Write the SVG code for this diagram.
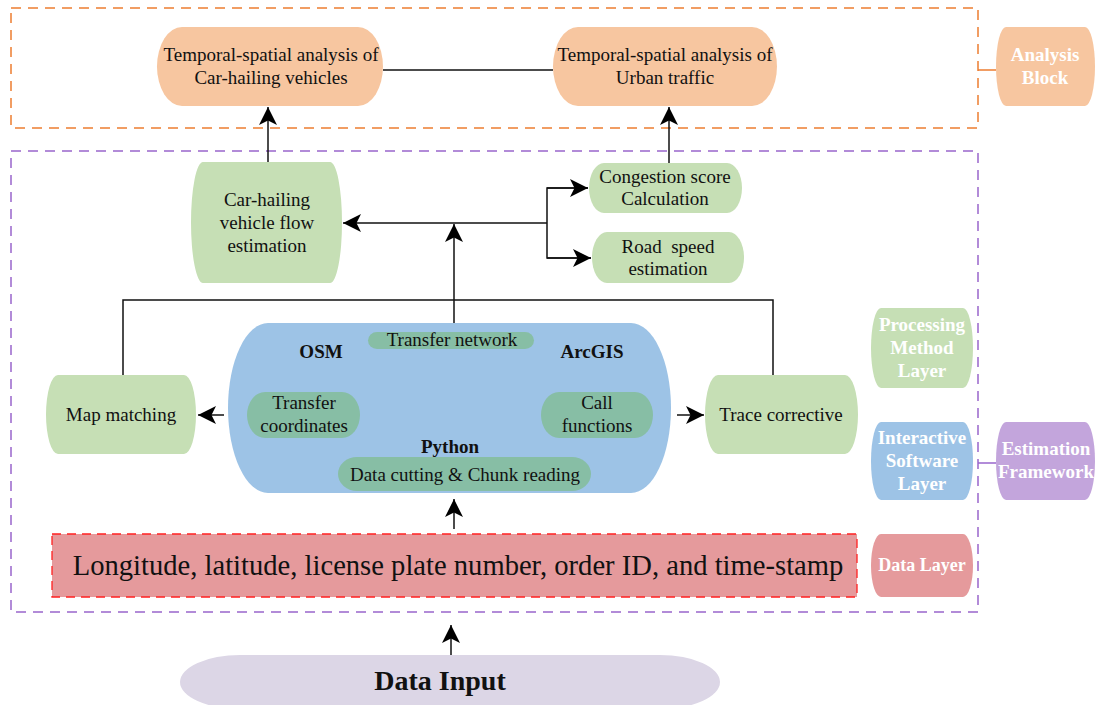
<svg xmlns="http://www.w3.org/2000/svg" width="1096" height="705" viewBox="0 0 1096 705">
<defs>
<style>
.t{font-family:"Liberation Serif","Times New Roman",serif;fill:#111;text-anchor:middle;font-size:19px}
.w{font-family:"Liberation Serif","Times New Roman",serif;fill:#fff;text-anchor:middle;font-weight:bold;font-size:19px}
.b{font-weight:bold}
.big{font-size:28.6px}
.bigb{font-size:28px;font-weight:bold}
.sm{font-size:18px}
.ln{stroke:#111;stroke-width:1.5;fill:none}
.peach{fill:#f7c6a0}
.green{fill:#c6dfb5}
.blue{fill:#9dc3e6}
.teal{fill:#87bea5}
.red{fill:#e59a9c}
.lav{fill:#dcd6e6}
.vio{fill:#c3a5dc}
</style>
<marker id="aL" viewBox="0 0 10 10" refX="10" refY="5" markerWidth="18" markerHeight="18" markerUnits="userSpaceOnUse" orient="auto">
<path d="M0,0 L10,5 L0,10 L2.5,5 Z" fill="#000"/>
</marker>
<marker id="as" viewBox="0 0 10 10" refX="10" refY="5" markerWidth="7" markerHeight="7" markerUnits="userSpaceOnUse" orient="auto-start-reverse">
<path d="M0,0 L10,5 L0,10 L3,5 Z" fill="#000"/>
</marker>
</defs>

<g id="frames">
<rect x="11" y="8" width="967" height="120" fill="none" stroke="#ed7d31" stroke-width="1.5" stroke-dasharray="10,7"/>
<rect x="11" y="151" width="967" height="461" fill="none" stroke="#9966cc" stroke-width="1.5" stroke-dasharray="10,7"/>
<line x1="978" y1="70" x2="996" y2="70" stroke="#ed7d31" stroke-width="1.5"/>
<line x1="978" y1="463" x2="996" y2="463" stroke="#9966cc" stroke-width="1.5"/>
</g>

<g id="connectors">
<line class="ln" x1="383" y1="70" x2="553" y2="70"/>
<line class="ln" x1="268" y1="163" x2="268" y2="107" marker-end="url(#aL)"/>
<line class="ln" x1="669" y1="163" x2="669" y2="107" marker-end="url(#aL)"/>
<line class="ln" x1="547" y1="223" x2="343" y2="223" marker-end="url(#aL)"/>
<line class="ln" x1="454" y1="323" x2="454" y2="224" marker-end="url(#aL)"/>
<polyline class="ln" points="588,188 547,188 547,258 591,258"/>
<line class="ln" x1="547" y1="188" x2="588" y2="188" marker-end="url(#aL)"/>
<line class="ln" x1="547" y1="258" x2="591" y2="258" marker-end="url(#aL)"/>
<polyline class="ln" points="123,375 123,300 773,300 773,375"/>
<line class="ln" x1="224" y1="415" x2="198" y2="415" marker-end="url(#aL)"/>
<line class="ln" x1="677" y1="415" x2="704" y2="415" marker-end="url(#aL)"/>
<line x1="368" y1="353" x2="540" y2="353" stroke="#111" stroke-width="1.2" marker-start="url(#as)" marker-end="url(#as)"/>
<line x1="412" y1="437" x2="346" y2="370" stroke="#111" stroke-width="1.2" marker-end="url(#as)"/>
<line x1="489" y1="437" x2="555" y2="370" stroke="#111" stroke-width="1.2" marker-end="url(#as)"/>
<line class="ln" x1="454" y1="529" x2="454" y2="499" marker-end="url(#aL)"/>
<line class="ln" x1="451" y1="655" x2="451" y2="625" marker-end="url(#aL)"/>
</g>

<g id="car-hailing-analysis">
<path class="peach" d="M182,27 H358 A25,39.5 0 0 1 358,106 H182 A25,39.5 0 0 1 182,27 Z"/>
<text class="t" x="271" y="61">Temporal-spatial analysis of</text>
<text class="t" x="271" y="84">Car-hailing vehicles</text>
</g>

<g id="urban-analysis">
<path class="peach" d="M578,27 H752 A25,39.5 0 0 1 752,106 H578 A25,39.5 0 0 1 578,27 Z"/>
<text class="t" x="665" y="61">Temporal-spatial analysis of</text>
<text class="t" x="665" y="84">Urban traffic</text>
</g>

<g id="analysis-block">
<path class="peach" d="M1006,27 H1085 A10,39.5 0 0 1 1085,106 H1006 A10,39.5 0 0 1 1006,27 Z"/>
<text class="w" x="1045" y="61">Analysis</text>
<text class="w" x="1045" y="84">Block</text>
</g>

<g id="flow-estimation">
<path class="green" d="M203,162 H330 A12,60.5 0 0 1 330,283 H203 A12,60.5 0 0 1 203,162 Z"/>
<text class="t" x="267" y="206">Car-hailing</text>
<text class="t" x="267" y="229">vehicle flow</text>
<text class="t" x="267" y="252">estimation</text>
</g>

<g id="congestion">
<path class="green" d="M604,163 H727 A15,25 0 0 1 727,213 H604 A15,25 0 0 1 604,163 Z"/>
<text class="t" x="665" y="183">Congestion score</text>
<text class="t" x="665" y="205">Calculation</text>
</g>

<g id="road-speed">
<path class="green" d="M607,232 H729 A15,25.5 0 0 1 729,283 H607 A15,25.5 0 0 1 607,232 Z"/>
<text class="t" x="668" y="253" xml:space="preserve">Road  speed</text>
<text class="t" x="668" y="275">estimation</text>
</g>

<g id="map-matching">
<path class="green" d="M58,375 H184 A12,39.5 0 0 1 184,454 H58 A12,39.5 0 0 1 58,375 Z"/>
<text class="t" x="121" y="421">Map matching</text>
</g>

<g id="trace-corrective">
<path class="green" d="M718,375 H845 A13,39.5 0 0 1 845,454 H718 A13,39.5 0 0 1 718,375 Z"/>
<text class="t" x="781" y="421">Trace corrective</text>
</g>

<g id="software">
<path class="blue" d="M268,323 H631 A40,85 0 0 1 631,493 H268 A40,85 0 0 1 268,323 Z"/>
<path class="teal" d="M377,332 H525 A9,8.5 0 0 1 525,349 H377 A9,8.5 0 0 1 377,332 Z"/>
<text class="t" x="452" y="346">Transfer network</text>
<text class="t b" x="321" y="358">OSM</text>
<text class="t b" x="592" y="358">ArcGIS</text>
<path class="teal" d="M265,392 H342 A18,23 0 0 1 342,438 H265 A18,23 0 0 1 265,392 Z"/>
<text class="t" x="304" y="409">Transfer</text>
<text class="t" x="304" y="432">coordinates</text>
<path class="teal" d="M559,392 H635 A18,23 0 0 1 635,438 H559 A18,23 0 0 1 559,392 Z"/>
<text class="t" x="597" y="409">Call</text>
<text class="t" x="597" y="432">functions</text>
<text class="t b" x="450" y="453">Python</text>
<path class="teal" d="M357,457 H572 A19,17 0 0 1 572,491 H357 A19,17 0 0 1 357,457 Z"/>
<text class="t" x="465" y="481">Data cutting &amp; Chunk reading</text>
</g>

<g id="data-row">
<rect x="52" y="534" width="805" height="63" class="red" stroke="#ff2020" stroke-width="1.3" stroke-dasharray="9,6"/>
<text class="t big" x="458" y="575">Longitude, latitude, license plate number, order ID, and time-stamp</text>
</g>

<g id="processing-layer">
<path class="green" d="M881,308 H963 A10,40 0 0 1 963,388 H881 A10,40 0 0 1 881,308 Z"/>
<text class="w" x="922" y="331">Processing</text>
<text class="w" x="922" y="354">Method</text>
<text class="w" x="922" y="377">Layer</text>
</g>

<g id="software-layer">
<path class="blue" d="M881,422 H963 A10,39 0 0 1 963,500 H881 A10,39 0 0 1 881,422 Z"/>
<text class="w" x="922" y="444">Interactive</text>
<text class="w" x="922" y="467">Software</text>
<text class="w" x="922" y="490">Layer</text>
</g>

<g id="estimation-framework">
<path class="vio" d="M1006,422 H1085 A10,39 0 0 1 1085,500 H1006 A10,39 0 0 1 1006,422 Z"/>
<text class="w" x="1046" y="455">Estimation</text>
<text class="w" x="1046" y="478">Framework</text>
</g>

<g id="data-layer">
<path class="red" d="M881,534 H963 A10,31.5 0 0 1 963,597 H881 A10,31.5 0 0 1 881,534 Z"/>
<text class="w sm" x="922" y="571">Data Layer</text>
</g>

<g id="data-input">
<path class="lav" d="M240,655 H660 A60,27 0 0 1 660,709 H240 A60,27 0 0 1 240,655 Z"/>
<text class="t bigb" x="440" y="690">Data Input</text>
</g>
</svg>
